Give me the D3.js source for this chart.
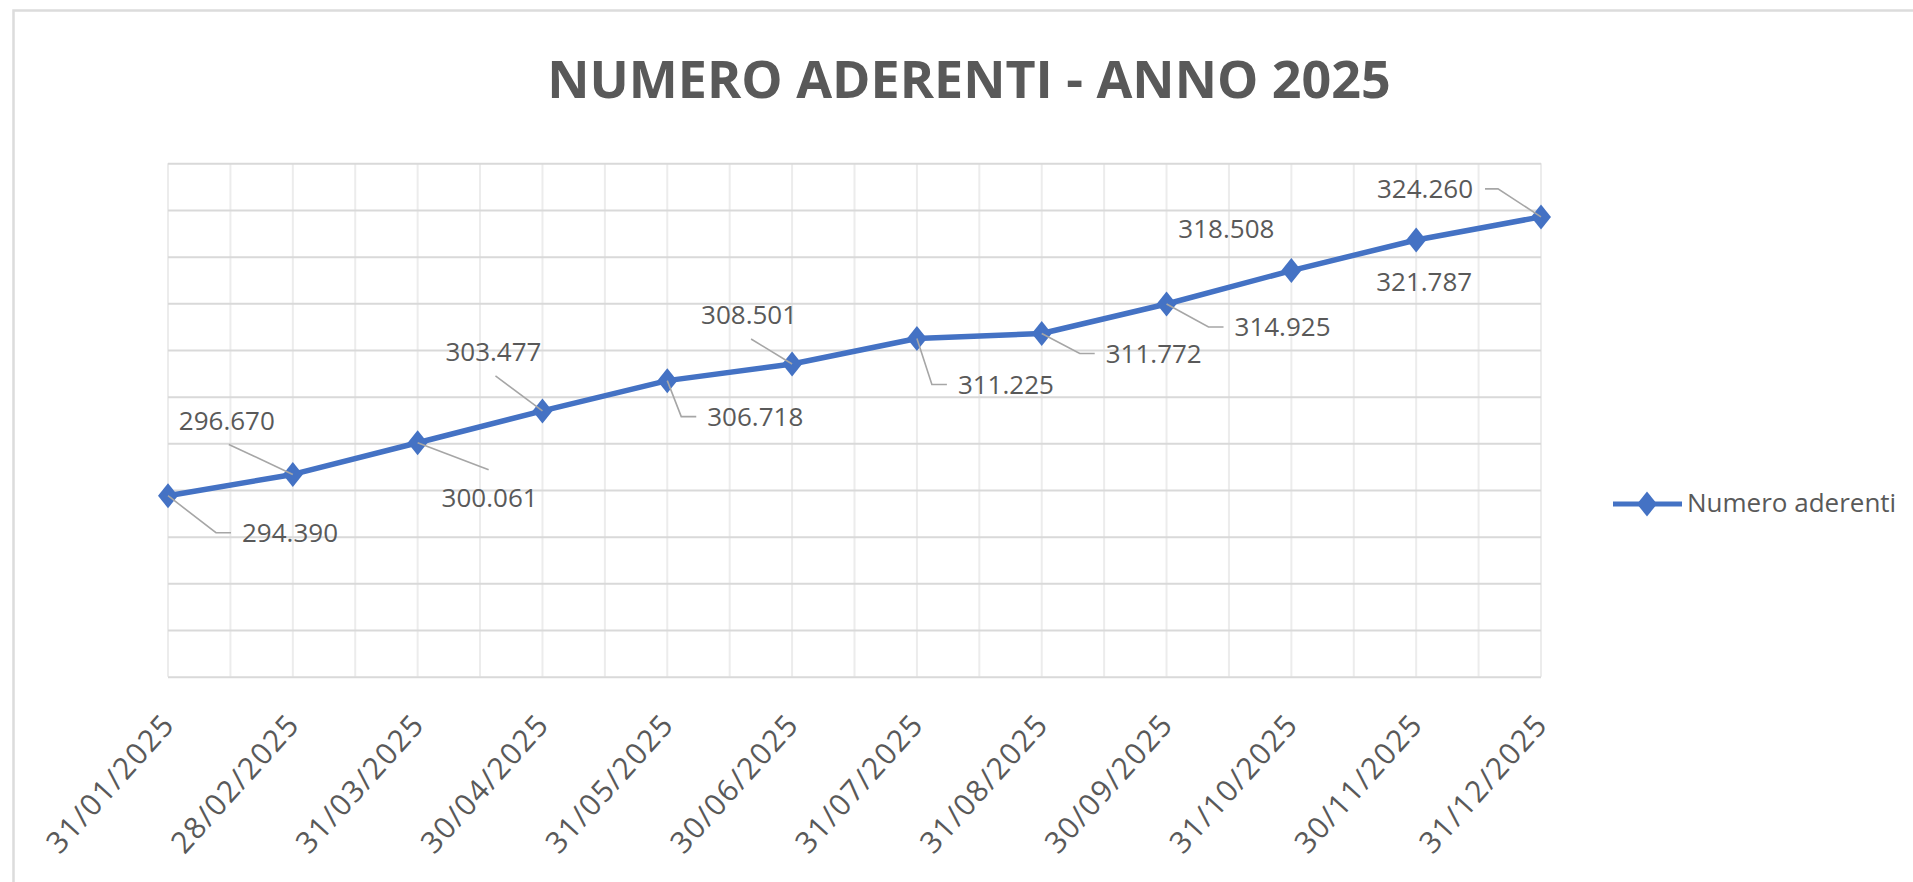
<!DOCTYPE html>
<html>
<head>
<meta charset="utf-8">
<script src="https://cdn.jsdelivr.net/npm/d3@7"></script>
<style>
  html, body { margin: 0; padding: 0; background: #fff; overflow: hidden; }
  svg { display: block; font-family: 'Open Sans', sans-serif; }
  .frame { fill: none; stroke: #dcdcdc; stroke-width: 2.5; }
  .hgrid line { stroke: #d9d9d9; stroke-width: 2; }
  .vgrid line { stroke: #ececec; stroke-width: 2; }
  .line { fill: none; stroke: #4472c4; stroke-width: 5.5; stroke-linejoin: round; }
  .dot { fill: #4472c4; }
  .label { fill: #595959; font-size: 26px; }
  .leader { fill: none; stroke: #a6a6a6; stroke-width: 1.6; }
  .x.axis text { fill: #595959; font-size: 30px; letter-spacing: 1.5px; font-family: 'Open Sans', sans-serif; }
  .title { fill: #595959; font-size: 52px; font-weight: 700; }
  .legend text { fill: #595959; font-size: 26px; }
</style>
</head>
<body>
<svg id="chart"></svg>
<script>
// chart data
const title = 'NUMERO ADERENTI - ANNO 2025'
const seriesName = 'Numero aderenti'
const dates = ['31/01/2025', '28/02/2025', '31/03/2025', '30/04/2025', '31/05/2025', '30/06/2025',
  '31/07/2025', '31/08/2025', '30/09/2025', '31/10/2025', '30/11/2025', '31/12/2025']
const values = [294390, 296670, 300061, 303477, 306718, 308501, 311225, 311772, 314925, 318508, 321787, 324260]
// hidden value axis: 275.000 .. 330.000 step 5.000
const yTicks = d3.range(275000, 330001, 5000)

const conf = {
  width: 1913,
  height: 882,
  margin: { top: 163.3, right: 372, bottom: 205.3, left: 168 },
  color: '#4472c4'
}

// where each data label sits relative to its point, and how its leader line runs
const labelPlacement = [
  { dx: 122, dy: 37, leader: 'left' },
  { dx: -66, dy: -54, leader: 'below' },
  { dx: 72, dy: 55, leader: 'above' },
  { dx: -49, dy: -59, leader: 'below' },
  { dx: 88, dy: 36, leader: 'left' },
  { dx: -43, dy: -49, leader: 'below' },
  { dx: 89, dy: 46, leader: 'left' },
  { dx: 112, dy: 20, leader: 'left' },
  { dx: 116, dy: 23, leader: 'left' },
  { dx: -65, dy: -42, leader: 'none' },
  { dx: 8, dy: 42, leader: 'none' },
  { dx: -116, dy: -28, leader: 'right' }
]

const it = d3.formatLocale({ decimal: ',', thousands: '.', grouping: [3], currency: ['€', ''] })
const fmt = it.format(',')

// diamond a bit taller than wide, like the original marker
const diamond = {
  draw(ctx, size) {
    const ry = Math.sqrt(size / 1.6)
    const rx = ry * 0.8
    ctx.moveTo(0, -ry)
    ctx.lineTo(rx, 0)
    ctx.lineTo(0, ry)
    ctx.lineTo(-rx, 0)
    ctx.closePath()
  }
}

const { width, height, margin } = conf
const w = width - margin.left - margin.right
const h = height - margin.top - margin.bottom

const svg = d3.select('#chart')
  .attr('width', width)
  .attr('height', height)

svg.append('rect')
  .attr('class', 'frame')
  .attr('x', 13.5)
  .attr('y', 10.5)
  .attr('width', width + 20)
  .attr('height', height + 20)

svg.append('text')
  .attr('class', 'title')
  .attr('x', 969)
  .attr('y', 98)
  .attr('text-anchor', 'middle')
  .text(title)

const chart = svg.append('g')
  .attr('transform', `translate(${margin.left}, ${margin.top})`)

const xScale = d3.scaleLinear()
  .domain([0, dates.length - 1])
  .range([0, w])

const yScale = d3.scaleLinear()
  .domain(d3.extent(yTicks))
  .range([h, 0])

// vertical grid: categories plus the half steps in between
chart.append('g')
  .attr('class', 'vgrid')
  .selectAll('line')
  .data(d3.range(0, dates.length - 0.5, 0.5))
  .join('line')
  .attr('x1', d => xScale(d))
  .attr('x2', d => xScale(d))
  .attr('y1', 0)
  .attr('y2', h)

const yAxis = d3.axisLeft(yScale)
  .tickValues(yTicks)
  .tickSize(-w)
  .tickFormat('')

chart.append('g')
  .attr('class', 'hgrid')
  .call(yAxis)
  .call(g => g.select('.domain').remove())

const xAxis = d3.axisBottom(xScale)
  .tickValues(d3.range(dates.length))
  .tickSize(0)
  .tickFormat(i => dates[i])

chart.append('g')
  .attr('class', 'x axis')
  .attr('transform', `translate(0, ${h})`)
  .call(xAxis)
  .call(g => g.select('.domain').remove())
  .selectAll('text')
  .attr('y', null)
  .attr('dy', '0.35em')
  .attr('text-anchor', 'end')
  .attr('transform', 'translate(0, 42) rotate(-48)')

const data = values.map((v, i) => ({ i, value: v }))

const line = d3.line()
  .x(d => xScale(d.i))
  .y(d => yScale(d.value))

chart.append('path')
  .attr('class', 'line')
  .attr('d', line(data))

// data labels with leader lines
const labels = chart.append('g').attr('class', 'labels')
data.forEach((d, k) => {
  const p = labelPlacement[k]
  const px = xScale(d.i)
  const py = yScale(d.value)
  const cx = px + p.dx
  const cy = py + p.dy
  const t = labels.append('text')
    .attr('class', 'label')
    .attr('x', cx)
    .attr('y', cy)
    .attr('dy', '0.35em')
    .attr('text-anchor', 'middle')
    .text(fmt(d.value))
  const bb = t.node().getBBox()
  let pts = null
  if (p.leader === 'left') {
    const end = bb.x - 11
    pts = [[px, py], [end - 15, cy], [end, cy]]
  } else if (p.leader === 'right') {
    const end = bb.x + bb.width + 12
    pts = [[px, py], [end + 13, cy], [end, cy]]
  } else if (p.leader === 'below') {
    pts = [[px, py], [cx + 2, cy + 24]]
  } else if (p.leader === 'above') {
    pts = [[px, py], [cx - 1, cy - 28]]
  }
  if (pts) {
    labels.insert('path', 'text')
      .attr('class', 'leader')
      .attr('d', d3.line()(pts))
  }
})

chart.append('g')
  .selectAll('path')
  .data(data)
  .join('path')
  .attr('class', 'dot')
  .attr('transform', d => `translate(${xScale(d.i)}, ${yScale(d.value)})`)
  .attr('d', d3.symbol(diamond, 250))

// keep labels above the markers
chart.node().appendChild(labels.node())

// legend
const legend = svg.append('g')
  .attr('class', 'legend')
  .attr('transform', 'translate(1613, 504)')

legend.append('line')
  .attr('x1', 0)
  .attr('x2', 69)
  .attr('stroke', conf.color)
  .attr('stroke-width', 5)

legend.append('path')
  .attr('class', 'dot')
  .attr('transform', 'translate(34, 0)')
  .attr('d', d3.symbol(diamond, 250))

legend.append('text')
  .attr('x', 74)
  .attr('y', -1)
  .attr('dy', '0.35em')
  .text(seriesName)
</script>
</body>
</html>
